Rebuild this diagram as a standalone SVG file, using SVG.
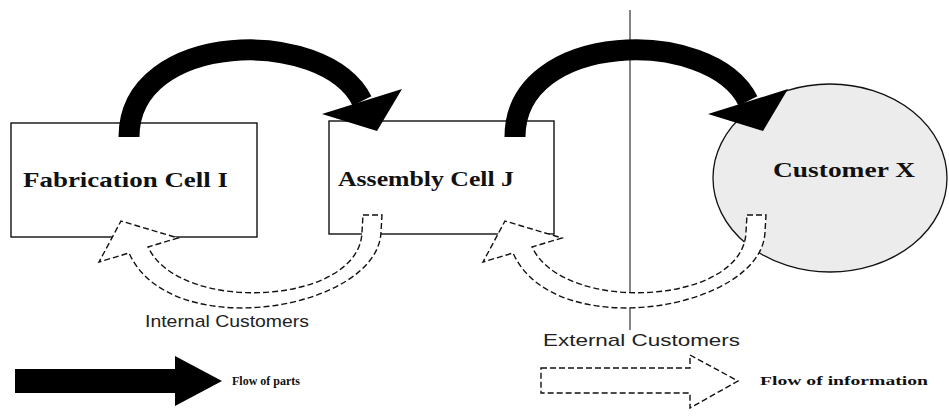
<svg xmlns="http://www.w3.org/2000/svg" width="949" height="420" viewBox="0 0 949 420">
  <style>
    .box { fill: #ffffff; stroke: #111111; stroke-width: 1.4; }
    .cust { fill: #ececec; stroke: #111111; stroke-width: 1.3; }
    .parts { fill: none; stroke: #000000; stroke-width: 21; stroke-linecap: butt; }
    .head { fill: #000000; stroke: none; }
    .info { fill: #ffffff; stroke: #111111; stroke-width: 1.4; stroke-dasharray: 6 3; stroke-linejoin: miter; }
    .divider { stroke: #333333; stroke-width: 1.2; }
    .label { font-family: "Liberation Serif", "Times New Roman", serif; font-weight: bold; font-size: 21px; fill: #111111; }
    .caption { font-family: "Liberation Sans", Arial, sans-serif; font-size: 17px; fill: #222222; }
    .legend { font-family: "Liberation Serif", "Times New Roman", serif; font-weight: bold; font-size: 13px; fill: #111111; }
  </style>
  <defs>
    <!-- thick curved arrow carrying parts downstream -->
    <g id="partsArrow">
      <path class="parts" d="M129,137 C129,30 324.5,26 362,101"/>
      <polygon class="head" points="322,114 402,89 377,131"/>
    </g>
    <!-- hollow dashed arrow returning information upstream -->
    <path id="infoArrow" class="info" d="M363,215 L382,215 L381,232 C378,310 170,345 129,253 L99,262 L121,221 L178,238 L148,247 C180,315 360,305 362,232 Z"/>
  </defs>

  <!-- boundary between internal and external customers -->
  <line class="divider" x1="630" y1="10" x2="630" y2="330"/>

  <g id="fabrication">
    <rect class="box" x="11" y="123" width="246" height="114"/>
    <text class="label" x="23" y="187" textLength="205" lengthAdjust="spacingAndGlyphs">Fabrication Cell I</text>
  </g>

  <g id="assembly">
    <rect class="box" x="329" y="121" width="225" height="113"/>
    <text class="label" x="338" y="186" textLength="176" lengthAdjust="spacingAndGlyphs">Assembly Cell J</text>
  </g>

  <g id="customer">
    <ellipse class="cust" cx="830" cy="178" rx="117" ry="94"/>
    <text class="label" x="773" y="177" textLength="142" lengthAdjust="spacingAndGlyphs">Customer X</text>
  </g>

  <g id="connectors">
    <use href="#partsArrow"/>
    <use href="#partsArrow" transform="translate(386,0)"/>
    <use href="#infoArrow"/>
    <use href="#infoArrow" transform="translate(384,0)"/>
  </g>

  <g id="captions">
    <text class="caption" x="145" y="327" textLength="164" lengthAdjust="spacingAndGlyphs">Internal Customers</text>
    <text class="caption" x="543" y="346" textLength="197" lengthAdjust="spacingAndGlyphs">External Customers</text>
  </g>

  <g id="legend">
    <polygon class="head" points="15,369 175,369 175,356 222,381 175,406 175,393 15,393"/>
    <text class="legend" x="232" y="385" textLength="68" lengthAdjust="spacingAndGlyphs">Flow of parts</text>
    <polygon class="info" points="541,368 690,368 690,355 738,381 690,408 690,393 541,393"/>
    <text class="legend" x="760" y="385" textLength="168" lengthAdjust="spacingAndGlyphs">Flow of information</text>
  </g>
</svg>
